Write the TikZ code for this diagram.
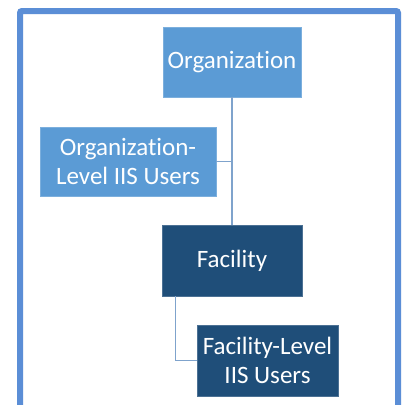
\documentclass[tikz,border=0pt]{standalone}
\usepackage{fontspec}
\setmainfont{Carlito}[Ligatures={NoCommon}]
\definecolor{lightbox}{HTML}{5B9BD5}
\definecolor{darkbox}{HTML}{1F4E79}
\definecolor{framecol}{HTML}{5B8ED6}
\definecolor{linecol}{HTML}{7FA3CC}
\tikzset{
  box/.style={rectangle, inner sep=0pt, text=white, align=center, font=\fontsize{25}{29}\selectfont, draw=#1!80!white, line width=0.8pt},
  lightnode/.style={box=lightbox, fill=lightbox},
  darknode/.style={box=darkbox, fill=darkbox},
  conn/.style={draw=linecol, line width=1.6pt}
}
\begin{document}
\begin{tikzpicture}[x=1pt,y=-1pt]
\useasboundingbox (0,0) rectangle (403,405);
\clip (0,0) rectangle (403,405);
\fill[white] (0,0) rectangle (403,405);
\draw[framecol, line width=6pt, rounded corners=2pt] (20,11) rectangle (398,430);
\node[lightnode, minimum width=138pt, minimum height=70pt] (org) at (232,62) {Organization};
\node[lightnode, minimum width=176pt, minimum height=69pt] (oll) at (128,161.5) {Organization-\\Level IIS Users};
\node[darknode, minimum width=140pt, minimum height=71pt] (fac) at (232,260.5) {Facility};
\node[darknode, minimum width=141pt, minimum height=71pt] (fll) at (267.5,360.5) {Facility-Level\\IIS Users};
\draw[conn] (org.south) -- (fac.north);
\draw[conn] (oll.east) -- (oll.east -| org.south);
\draw[conn] ([xshift=14pt]fac.south west) |- (fll.west);
\end{tikzpicture}
\end{document}
